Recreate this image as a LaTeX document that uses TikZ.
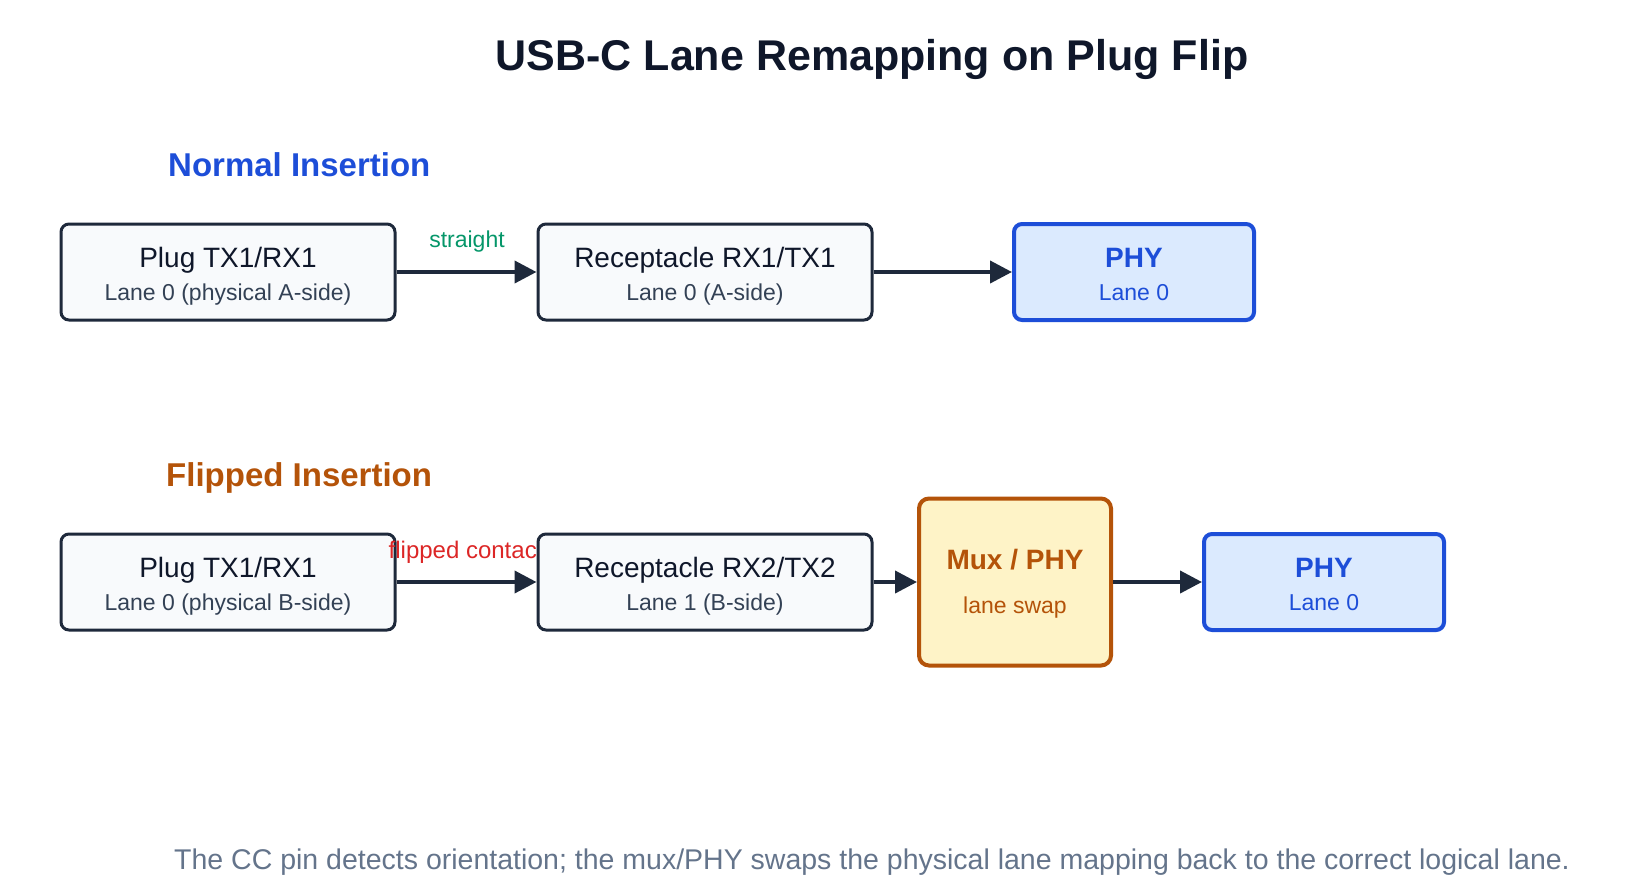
\documentclass[tikz,border=0pt]{standalone}
\usepackage{fontspec}
\setmainfont{Liberation Sans}
\usetikzlibrary{arrows.meta}
\definecolor{ink}{HTML}{1E293B}
\definecolor{titleink}{HTML}{0F172A}
\definecolor{subink}{HTML}{334155}
\definecolor{boxfill}{HTML}{F8FAFC}
\definecolor{phyblue}{HTML}{1D4ED8}
\definecolor{phyfill}{HTML}{DBEAFE}
\definecolor{muxbrown}{HTML}{B45309}
\definecolor{muxfill}{HTML}{FEF3C7}
\definecolor{greenlbl}{HTML}{059669}
\definecolor{redlbl}{HTML}{DC2626}
\definecolor{capgray}{HTML}{64748B}
\newcommand{\fsz}[1]{\fontsize{#1}{#1}\selectfont}
\begin{document}
\begin{tikzpicture}[x=1pt,y=-1pt,
  plainbox/.style={draw=ink, line width=3pt, fill=boxfill, rounded corners=8pt, minimum width=334pt, minimum height=96pt, inner sep=0pt},
  phybox/.style={draw=phyblue, line width=4pt, fill=phyfill, rounded corners=8pt, minimum width=240pt, minimum height=96pt, inner sep=0pt},
  muxbox/.style={draw=muxbrown, line width=4pt, fill=muxfill, rounded corners=10pt, minimum width=192pt, minimum height=167pt, inner sep=0pt},
  mainlbl/.style={text=titleink, font=\fsz{28}, inner sep=0pt},
  sublbl/.style={text=subink, font=\fsz{23}, inner sep=0pt},
  phymain/.style={text=phyblue, font=\fsz{28}\bfseries, inner sep=0pt},
  physub/.style={text=phyblue, font=\fsz{23}, inner sep=0pt},
  arr/.style={draw=ink, line width=4pt, -{Triangle[length=22pt,width=22pt]}},
  heading/.style={font=\fsz{33}\bfseries, inner sep=0pt, anchor=west},
  edgelbl/.style={font=\fsz{23}, inner sep=0pt}
]
\useasboundingbox (0,0) rectangle (1648,895);

\node[font=\fsz{43}\bfseries, text=titleink, inner sep=0pt] (title) at (872,59) {USB-C Lane Remapping on Plug Flip};

% Normal insertion
\node[heading, text=phyblue] (hnormal) at (168,165) {Normal Insertion};
\node[plainbox] (a1) at (228,272) {};
\node[mainlbl] (a1t) at (228,260) {Plug TX1/RX1};
\node[sublbl] (a1s) at (228,295) {Lane 0 (physical A-side)};
\node[plainbox] (a2) at (705,272) {};
\node[mainlbl] (a2t) at (705,260) {Receptacle RX1/TX1};
\node[sublbl] (a2s) at (705,295) {Lane 0 (A-side)};
\node[phybox] (a3) at (1134,272) {};
\node[phymain] (a3t) at (1134,258) {PHY};
\node[physub] (a3s) at (1134,293) {Lane 0};
\draw[arr] (a1.east) -- (a2.west);
\draw[arr] (a2.east) -- (a3.west);
\node[edgelbl, text=greenlbl] (lstraight) at (467,242) {straight};

% Flipped insertion
\node[heading, text=muxbrown] (hflip) at (166,478) {Flipped Insertion};
\node[plainbox] (b1) at (228,582) {};
\node[mainlbl] (b1t) at (228,570) {Plug TX1/RX1};
\node[sublbl] (b1s) at (228,605) {Lane 0 (physical B-side)};
\node[edgelbl, text=redlbl, anchor=east, font=\fsz{24}] (lflip) at (537,552) {flipped contac};
\node[plainbox] (b2) at (705,582) {};
\node[mainlbl] (b2t) at (705,570) {Receptacle RX2/TX2};
\node[sublbl] (b2s) at (705,605) {Lane 1 (B-side)};
\node[muxbox] (mux) at (1015,582) {};
\node[text=muxbrown, font=\fsz{28}\bfseries, inner sep=0pt] (muxt) at (1015,560) {Mux / PHY};
\node[text=muxbrown, font=\fsz{23}, inner sep=0pt] (muxs) at (1015,608) {lane swap};
\node[phybox] (b4) at (1324,582) {};
\node[phymain] (b4t) at (1324,568) {PHY};
\node[physub] (b4s) at (1324,603) {Lane 0};
\draw[arr] (b1.east) -- (b2.west);
\draw[arr] (b2.east) -- (mux.west);
\draw[arr] (mux.east) -- (b4.west);

\node[text=capgray, font=\fsz{28.5}, inner sep=0pt] (caption) at (872,862) {The CC pin detects orientation; the mux/PHY swaps the physical lane mapping back to the correct logical lane.};
\end{tikzpicture}
\end{document}
